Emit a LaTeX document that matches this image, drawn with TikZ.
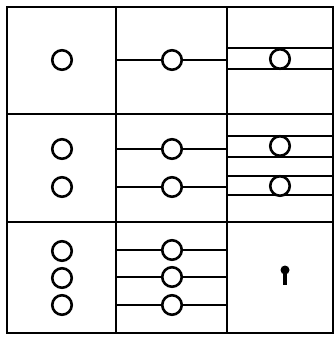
\documentclass[tikz,border=0pt]{standalone}
\begin{document}
\begin{tikzpicture}[x=1pt,y=-1pt,
  frame/.style={line width=2.8pt},
  ring/.style={circle,draw,line width=2.6pt,fill=white,minimum size=19.5pt,inner sep=0pt}]
\useasboundingbox (0,0) rectangle (336,337);
% grid
\draw[frame] (7,7) rectangle (333,333);
\draw[frame] (116,7) -- (116,333);
\draw[frame] (227,7) -- (227,333);
\draw[frame] (7,114) -- (333,114);
\draw[frame] (7,222) -- (333,222);
% row 1
\draw[frame] (116,60) -- (227,60);
\draw[frame] (227,48) -- (333,48);
\draw[frame] (227,69) -- (333,69);
\node[ring] (a1) at (62,60) {};
\node[ring] (b1) at (172,60) {};
\node[ring] (c1) at (280,59) {};
% row 2
\draw[frame] (116,149) -- (227,149);
\draw[frame] (116,187) -- (227,187);
\draw[frame] (227,136) -- (333,136);
\draw[frame] (227,157) -- (333,157);
\draw[frame] (227,176) -- (333,176);
\draw[frame] (227,195) -- (333,195);
\node[ring] (a2) at (62,149) {};
\node[ring] (a3) at (62,187) {};
\node[ring] (b2) at (172,149) {};
\node[ring] (b3) at (172,187) {};
\node[ring] (c2) at (280,146) {};
\node[ring] (c3) at (280,186) {};
% row 3
\draw[frame] (116,250) -- (227,250);
\draw[frame] (116,277) -- (227,277);
\draw[frame] (116,305) -- (227,305);
\node[ring] (a4) at (62,251) {};
\node[ring] (a5) at (62,278) {};
\node[ring] (a6) at (62,305) {};
\node[ring] (b4) at (172,250) {};
\node[ring] (b5) at (172,277) {};
\node[ring] (b6) at (172,305) {};
% keyhole
\fill (285,270) circle (4.5pt);
\draw[line width=3.2pt] (285,270) -- (285,285);
\end{tikzpicture}
\end{document}
